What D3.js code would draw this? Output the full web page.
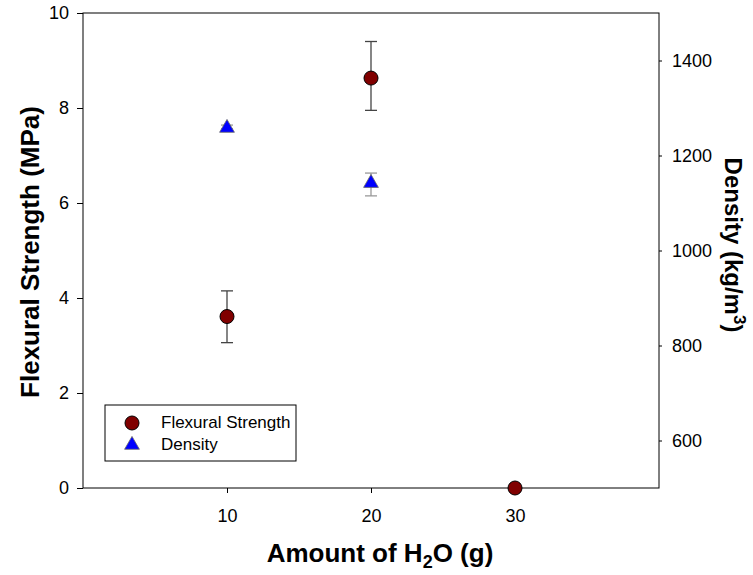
<!DOCTYPE html>
<html>
<head>
<meta charset="utf-8">
<script src="https://cdn.jsdelivr.net/npm/d3@7"></script>
<style>
body { margin: 0; background: #fff; }
svg text { font-family: "Liberation Sans", Arial, sans-serif; }
</style>
</head>
<body>
<svg id="viz"></svg>
<script>
// data
const water = [10, 20, 30];
const flexural = [3.61, 8.63, 0];
const flexuralLo = [3.06, 7.95, 0];
const flexuralHi = [4.15, 9.40, 0];
const densityX = [10, 20];
const density = [1260, 1144];
const densityLo = [1256, 1115];
const densityHi = [1264, 1163];
const leftTicks = [0, 2, 4, 6, 8, 10];
const rightTicks = [600, 800, 1000, 1200, 1400];
const xTicks = [10, 20, 30];

const width = 753, height = 575;
const margin = {top: 13, right: 94, bottom: 87, left: 83};
const plotWidth = width - margin.left - margin.right;
const plotHeight = height - margin.top - margin.bottom;

const translate = (x, y) => "translate(" + x + "," + y + ")";

const svg = d3.select("svg#viz").attr("width", width).attr("height", height);
const plot = svg.append("g").attr("transform", translate(margin.left, margin.top));

const x = d3.scaleLinear().domain([0, 40]).range([0, plotWidth]);
const yL = d3.scaleLinear().domain([0, 10]).range([plotHeight, 0]);
const yR = d3.scaleLinear().domain([500, 1500]).range([plotHeight, 0]);

// frame
plot.append("rect")
	.attr("width", plotWidth).attr("height", plotHeight)
	.attr("fill", "none").attr("stroke", "#000").attr("stroke-width", 1);

function styleAxis(g) {
	g.select(".domain").remove();
	g.attr("font-family", null);
	g.selectAll("text").attr("font-size", 18).attr("fill", "#000");
	g.selectAll("line").attr("stroke", "#000");
}

plot.append("g")
	.call(d3.axisLeft(yL).tickValues(leftTicks).tickSize(6).tickPadding(8))
	.call(styleAxis);

plot.append("g")
	.attr("transform", translate(plotWidth, 0))
	.call(d3.axisRight(yR).tickValues(rightTicks).tickSize(3).tickPadding(10).tickFormat(d3.format("d")))
	.call(styleAxis);

plot.append("g")
	.attr("transform", translate(0, plotHeight))
	.call(d3.axisBottom(x).tickValues(xTicks).tickSize(5).tickPadding(16))
	.call(styleAxis);

// error bars
function errorBars(xs, lo, hi, yScale, color) {
	const g = plot.append("g").attr("stroke", color).attr("stroke-width", 1.3);
	xs.forEach((v, i) => {
		if (hi[i] === lo[i]) return;
		const cx = x(v);
		g.append("line").attr("x1", cx).attr("x2", cx).attr("y1", yScale(lo[i])).attr("y2", yScale(hi[i]));
		[lo[i], hi[i]].forEach(e => {
			g.append("line").attr("x1", cx - 6).attr("x2", cx + 6).attr("y1", yScale(e)).attr("y2", yScale(e));
		});
	});
}
errorBars(water, flexuralLo, flexuralHi, yL, "#444");
errorBars(densityX, densityLo, densityHi, yR, "#999");

const tri = d3.symbol().type(d3.symbolTriangle).size(95);

plot.append("g").selectAll("path")
	.data(densityX)
	.join("path")
	.attr("d", tri)
	.attr("transform", (d, i) => translate(x(d), yR(density[i]) + 1))
	.attr("fill", "#0000ff").attr("stroke", "#666").attr("stroke-width", 0.8);

plot.append("g").selectAll("circle")
	.data(water)
	.join("circle")
	.attr("cx", d => x(d))
	.attr("cy", (d, i) => yL(flexural[i]))
	.attr("r", 7)
	.attr("fill", "#800000").attr("stroke", "#000").attr("stroke-width", 1);

// axis titles
svg.append("text")
	.attr("transform", translate(39, 252) + " rotate(-90)")
	.attr("text-anchor", "middle")
	.attr("font-size", 26).attr("font-weight", "bold")
	.text("Flexural Strength (MPa)");

const rt = svg.append("text")
	.attr("transform", translate(725, 245) + " rotate(90)")
	.attr("text-anchor", "middle")
	.attr("font-size", 24).attr("font-weight", "bold");
rt.append("tspan").text("Density (kg/m");
rt.append("tspan").attr("font-size", 17).attr("dy", -9).text("3");
rt.append("tspan").attr("dy", 9).text(")");

const xt = svg.append("text")
	.attr("x", 380).attr("y", 562)
	.attr("text-anchor", "middle")
	.attr("font-size", 26).attr("font-weight", "bold");
xt.append("tspan").text("Amount of H");
xt.append("tspan").attr("font-size", 18).attr("dy", 6).text("2");
xt.append("tspan").attr("dy", -6).text("O (g)");

// legend
const legend = svg.append("g").attr("transform", translate(105, 405));
legend.append("rect").attr("width", 191).attr("height", 56)
	.attr("fill", "#fff").attr("stroke", "#000").attr("stroke-width", 1);
legend.append("circle").attr("cx", 27).attr("cy", 18).attr("r", 7)
	.attr("fill", "#800000").attr("stroke", "#000");
legend.append("path").attr("d", tri)
	.attr("transform", translate(27, 40))
	.attr("fill", "#0000ff").attr("stroke", "#666").attr("stroke-width", 0.8);
legend.append("text").attr("x", 56).attr("y", 23).attr("font-size", 17).text("Flexural Strength");
legend.append("text").attr("x", 56).attr("y", 45).attr("font-size", 17).text("Density");
</script>
</body>
</html>
